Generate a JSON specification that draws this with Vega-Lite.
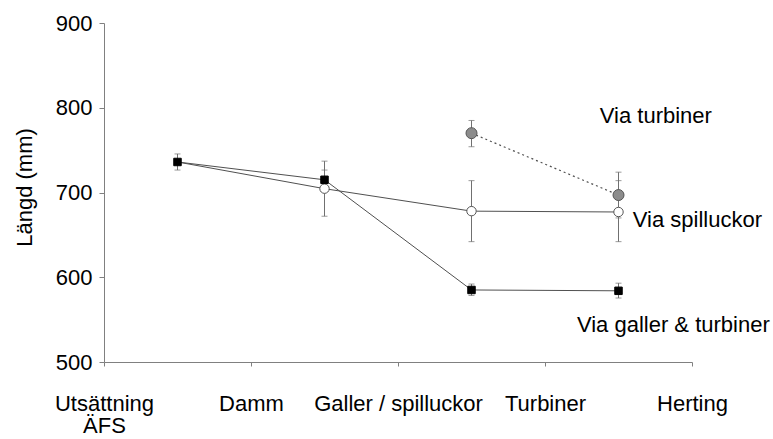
{
  "$schema": "https://vega.github.io/schema/vega-lite/v6.json",
  "width": 588,
  "height": 339,
  "autosize": "none",
  "padding": {"left": 104, "top": 23, "right": 81, "bottom": 77},
  "background": "white",
  "config": {
    "font": "Liberation Sans",
    "view": {"stroke": null},
    "axis": {"grid": false, "domainColor": "#808080", "tickColor": "#808080", "labelColor": "black", "titleColor": "black", "labelFont": "Liberation Sans", "titleFont": "Liberation Sans", "labelFontSize": 22, "titleFontSize": 22, "titleFontWeight": "normal"}
  },
  "datasets": {
    "lines": [
      {"serie": "galler", "x": 0.5, "y": 736},
      {"serie": "galler", "x": 1.5, "y": 715},
      {"serie": "galler", "x": 2.5, "y": 585},
      {"serie": "galler", "x": 3.5, "y": 584},
      {"serie": "spill", "x": 0.5, "y": 736},
      {"serie": "spill", "x": 1.5, "y": 704.5},
      {"serie": "spill", "x": 2.5, "y": 678},
      {"serie": "spill", "x": 3.5, "y": 677}
    ],
    "turb": [
      {"x": 2.5, "y": 770},
      {"x": 3.5, "y": 697}
    ],
    "points": [
      {"serie": "galler", "x": 0.5, "y": 736, "lo": 726.5, "hi": 745.5},
      {"serie": "spill", "x": 1.5, "y": 704.5, "lo": 672, "hi": 737},
      {"serie": "galler", "x": 1.5, "y": 715, "lo": 703.5, "hi": 726.5},
      {"serie": "galler", "x": 2.5, "y": 585, "lo": 578.5, "hi": 592},
      {"serie": "galler", "x": 3.5, "y": 584, "lo": 575.5, "hi": 593},
      {"serie": "spill", "x": 2.5, "y": 678, "lo": 642, "hi": 714},
      {"serie": "spill", "x": 3.5, "y": 677, "lo": 642, "hi": 714},
      {"serie": "turb", "x": 2.5, "y": 770, "lo": 754, "hi": 785},
      {"serie": "turb", "x": 3.5, "y": 697, "lo": 670, "hi": 724}
    ],
    "labels": [
      {"label": "Via turbiner", "x": 3.754, "y": 781.6},
      {"label": "Via spilluckor", "x": 4.037, "y": 659.6},
      {"label": "Via galler & turbiner", "x": 3.873, "y": 535.8}
    ]
  },
  "layer": [
    {
      "data": {"name": "points"},
      "mark": {"type": "rule", "color": "#707070", "strokeWidth": 1},
      "encoding": {
        "x": {"field": "x", "type": "quantitative", "scale": {"domain": [0, 4], "nice": false, "zero": false},
          "axis": {"title": null, "values": [0, 1, 2, 3, 4], "tickSize": 4, "labelPadding": 27, "labelLineHeight": 22, "labelBaseline": "top", "labelAlign": "center", "labelFlush": false, "labelOverlap": false,
            "labelExpr": "datum.value == 0 ? ['Utsättning', 'ÄFS'] : datum.value == 1 ? 'Damm' : datum.value == 2 ? 'Galler / spilluckor' : datum.value == 3 ? 'Turbiner' : 'Herting'"}},
        "y": {"field": "lo", "type": "quantitative", "scale": {"domain": [500, 900], "nice": false, "zero": false},
          "axis": {"title": "Längd (mm)", "values": [500, 600, 700, 800, 900], "tickSize": 5, "labelPadding": 7, "titleX": -73, "titleY": 164, "titleAngle": -90, "titleBaseline": "alphabetic", "titleAlign": "center"}},
        "y2": {"field": "hi"}
      }
    },
    {
      "data": {"name": "points"},
      "mark": {"type": "tick", "orient": "horizontal", "color": "#707070", "thickness": 1, "size": 6},
      "encoding": {
        "x": {"field": "x", "type": "quantitative"},
        "y": {"field": "lo", "type": "quantitative"}
      }
    },
    {
      "data": {"name": "points"},
      "mark": {"type": "tick", "orient": "horizontal", "color": "#707070", "thickness": 1, "size": 6},
      "encoding": {
        "x": {"field": "x", "type": "quantitative"},
        "y": {"field": "hi", "type": "quantitative"}
      }
    },
    {
      "data": {"name": "lines"},
      "mark": {"type": "line", "color": "#505050", "strokeWidth": 1},
      "encoding": {
        "x": {"field": "x", "type": "quantitative"},
        "y": {"field": "y", "type": "quantitative"},
        "detail": {"field": "serie"}
      }
    },
    {
      "data": {"name": "turb"},
      "mark": {"type": "line", "color": "#505050", "strokeWidth": 1.2, "strokeDash": [2, 3]},
      "encoding": {
        "x": {"field": "x", "type": "quantitative"},
        "y": {"field": "y", "type": "quantitative"}
      }
    },
    {
      "data": {"name": "points"},
      "mark": {"type": "point", "filled": true, "opacity": 1, "strokeWidth": 1},
      "encoding": {
        "x": {"field": "x", "type": "quantitative"},
        "y": {"field": "y", "type": "quantitative"},
        "shape": {"field": "serie", "type": "nominal", "scale": {"domain": ["galler", "spill", "turb"], "range": ["square", "circle", "circle"]}, "legend": null},
        "fill": {"field": "serie", "type": "nominal", "scale": {"domain": ["galler", "spill", "turb"], "range": ["#000000", "#ffffff", "#8c8c8c"]}, "legend": null},
        "stroke": {"field": "serie", "type": "nominal", "scale": {"domain": ["galler", "spill", "turb"], "range": ["#000000", "#555555", "#555555"]}, "legend": null},
        "size": {"field": "serie", "type": "nominal", "scale": {"domain": ["galler", "spill", "turb"], "range": [56, 121, 121]}, "legend": null}
      }
    },
    {
      "data": {"name": "labels"},
      "mark": {"type": "text", "fontSize": 22, "font": "Liberation Sans", "align": "center", "baseline": "alphabetic", "color": "black"},
      "encoding": {
        "x": {"field": "x", "type": "quantitative"},
        "y": {"field": "y", "type": "quantitative"},
        "text": {"field": "label"}
      }
    }
  ]
}
